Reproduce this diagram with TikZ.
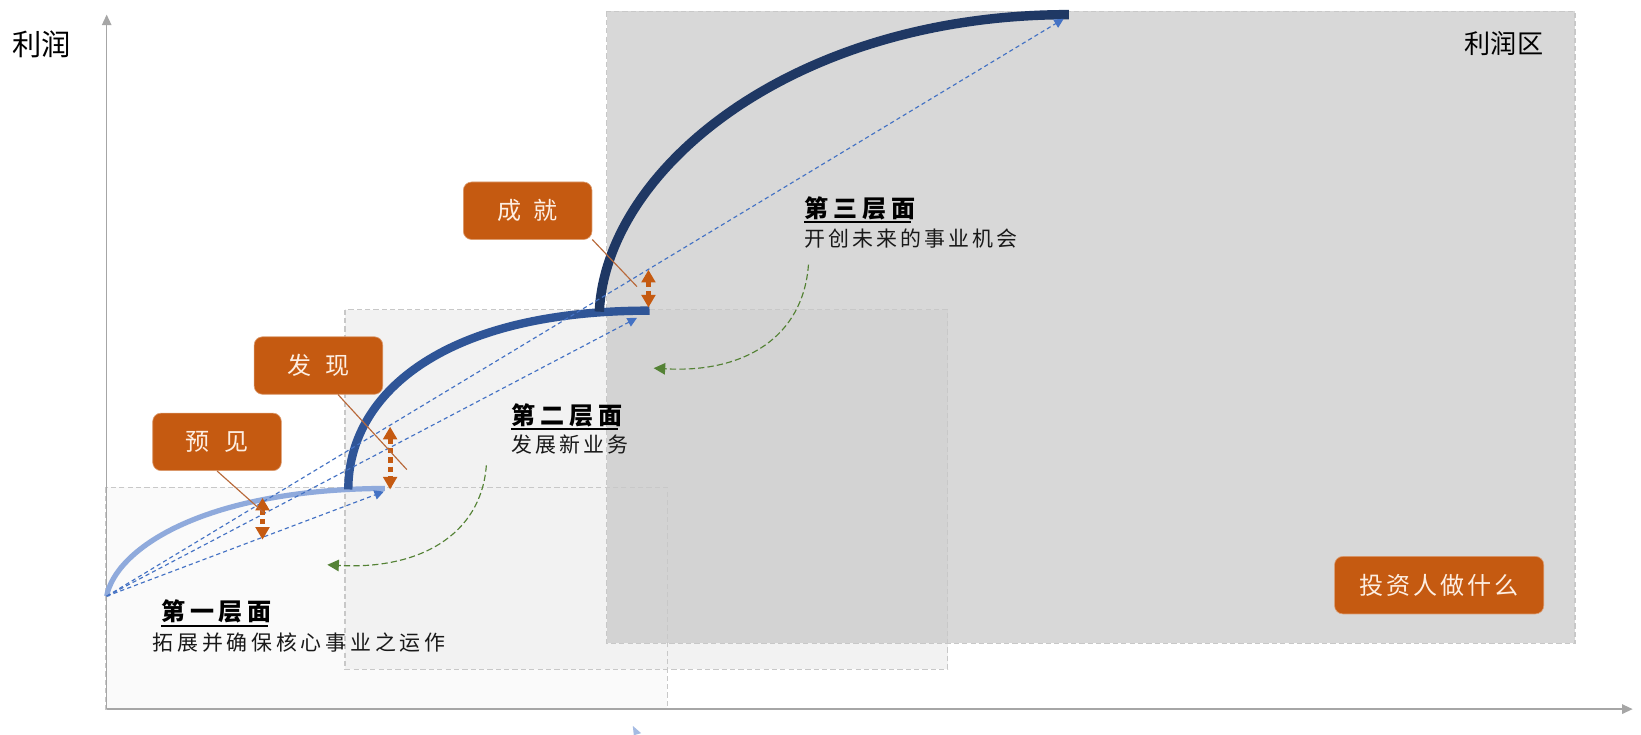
\documentclass[tikz,border=0pt]{standalone}
\usepackage{fontspec}
\setmainfont{Noto Sans CJK SC}
\usetikzlibrary{arrows.meta}
\definecolor{orangebox}{HTML}{C55A11}
\definecolor{boxtext}{HTML}{FDEEE2}
\definecolor{lblue}{HTML}{8FAADC}
\definecolor{mblue}{HTML}{2F5597}
\definecolor{dblue}{HTML}{1F3864}
\definecolor{dashblue}{HTML}{4472C4}
\definecolor{ggreen}{HTML}{548235}
\definecolor{axisgray}{HTML}{A6A6A6}
\definecolor{zonea}{HTML}{FAFAFA}
\definecolor{zoneb}{HTML}{F2F2F2}
\definecolor{zonec}{HTML}{C1C1C1}
\definecolor{zoneedge}{HTML}{C8C8C8}
\definecolor{calloutc}{HTML}{B8693A}
\tikzset{
  zonebox/.style={draw=zoneedge, line width=1.3pt, dash pattern=on 5pt off 3pt},
  axisline/.style={draw=axisgray, line width=1.3pt, -{Triangle[width=9pt,length=10pt]}},
  obox/.style={fill=orangebox, draw=orangebox!60!white, line width=0.6pt, rounded corners=8pt,
    minimum height=55pt, text=boxtext, font=\fontsize{23}{27}\selectfont, inner sep=0pt},
  callout/.style={draw=calloutc, line width=1.1pt},
  oarrow/.style={draw=orangebox, line width=5pt, dash pattern=on 5pt off 4pt,
    {Triangle[width=13pt,length=12pt]}-{Triangle[width=13pt,length=12pt]}},
  bdash/.style={draw=dashblue, line width=1.1pt, dash pattern=on 4pt off 3pt,
    -{Triangle[width=9pt,length=9pt]}},
  garrow/.style={draw=ggreen, line width=1.1pt, dash pattern=on 6pt off 3pt,
    -{Triangle[width=11pt,length=11pt]}},
  headtext/.style={anchor=west, inner sep=0pt, font=\fontsize{23}{27}\selectfont\bfseries\addfontfeature{LetterSpace=20}},
  bodytext/.style={anchor=west, inner sep=0pt, text=black!90, font=\fontsize{20}{24}\selectfont\addfontfeature{LetterSpace=15}},
}
\begin{document}
\begin{tikzpicture}[x=1pt,y=-1pt]
\useasboundingbox (0,0) rectangle (1569,702.7);
\fill[white] (0,0) rectangle (1569,702.7);

% zone fills
\fill[zonea] (101,466) rectangle (638,678);
\fill[zoneb] (330,296) rectangle (906,640);
\fill[zonec, fill opacity=0.615] (580,11) rectangle (1506,615);
% zone borders
\draw[zonebox] (101,466) rectangle (638,678);
\draw[zonebox] (330,296) rectangle (906,640);
\draw[zonebox] (580,11) rectangle (1506,615);

% axes
\coordinate (O) at (102,678);
\coordinate (Ytop) at (102,14);
\coordinate (Xend) at (1561,678);
\draw[axisline] (O) -- (Ytop);
\draw[axisline] (O) -- (Xend);

% labels
\node (ylab) at (40,42) {\fontsize{28}{32}\selectfont 利润};
\node (zonelab) at (1438,42) {\fontsize{25}{30}\selectfont 利润区};

% curves
\coordinate (c1s) at (102,570);
\coordinate (c1e) at (368,467);
\coordinate (c2s) at (333,468);
\coordinate (c2e) at (621,297);
\coordinate (c3s) at (573,298);
\coordinate (c3e) at (1022,14);
\draw[lblue, line width=5pt] (c1s) .. controls (110,527) and (190,468) .. (c1e);
\draw[mblue, line width=8pt] (c2s) .. controls (333,379) and (420,297) .. (c2e);
\draw[dblue, line width=9pt] (c3s) .. controls (580,160) and (760,14) .. (c3e);

% dashed lines from origin
\coordinate (L0) at (102,570);
\coordinate (L1) at (367,470);
\coordinate (L2) at (609,304);
\coordinate (L3) at (1017,18);
\draw[bdash] (L0) -- (L1);
\draw[bdash] (L0) -- (L2);
\draw[bdash] (L0) -- (L3);

% orange double arrows
\coordinate (a1t) at (251,476);
\coordinate (a1b) at (251,516);
\coordinate (a2t) at (373,408);
\coordinate (a2b) at (373,468);
\coordinate (a3t) at (620,258);
\coordinate (a3b) at (620,294);
\draw[oarrow] (a1t) -- (a1b);
\draw[oarrow] (a2t) -- (a2b);
\draw[oarrow] (a3t) -- (a3b);

% orange boxes
\node[obox, minimum width=123pt] (yj) at (207.5,422.5) {预\hspace{14pt}见};
\node[obox, minimum width=123pt] (fx) at (304.5,349.5) {发\hspace{14pt}现};
\node[obox, minimum width=123pt] (cj) at (504.5,201.5) {成\hspace{12pt}就};
\node[obox, minimum width=200pt] (tz) at (1376,559.5) {\addfontfeature{LetterSpace=12}投资人做什么};

% callout lines
\coordinate (k1) at (252,490);
\coordinate (k2) at (389,449);
\coordinate (k3) at (609,274);
\draw[callout] (yj.south) -- (k1);
\draw[callout] (fx.-56) -- (k2);
\draw[callout] (cj.-24) -- (k3);

% green arrows
\coordinate (g1s) at (465,445);
\coordinate (g1e) at (313,540);
\coordinate (g2s) at (773,253);
\coordinate (g2e) at (625,352);
\draw[garrow] (g1s) .. controls (460,512) and (400,545) .. (g1e);
\draw[garrow] (g2s) .. controls (768,322) and (712,357) .. (g2e);

% layer texts
\node[headtext] (h1) at (154,585) {第一层面};
\node[bodytext, font=\fontsize{20}{24}\selectfont\addfontfeature{LetterSpace=18}] (b1) at (146,614) {拓展并确保核心事业之运作};
\node[headtext] (h2) at (489,397) {第二层面};
\node[bodytext] (b2) at (489,425) {发展新业务};
\node[headtext] (h3) at (769,199) {第三层面};
\node[bodytext] (b3) at (769,228) {开创未来的事业机会};
\draw[line width=2pt] ([yshift=-2pt]h1.south west) -- ([yshift=-2pt,xshift=-4pt]h1.south east);
\draw[line width=2pt] ([yshift=-2pt]h2.south west) -- ([yshift=-2pt,xshift=-4pt]h2.south east);
\draw[line width=2pt] ([yshift=-2pt]h3.south west) -- ([yshift=-2pt,xshift=-4pt]h3.south east);

% small fragment at bottom
\fill[lblue!80] (605,694) -- (613,701) -- (606,703) -- cycle;
\end{tikzpicture}
\end{document}
